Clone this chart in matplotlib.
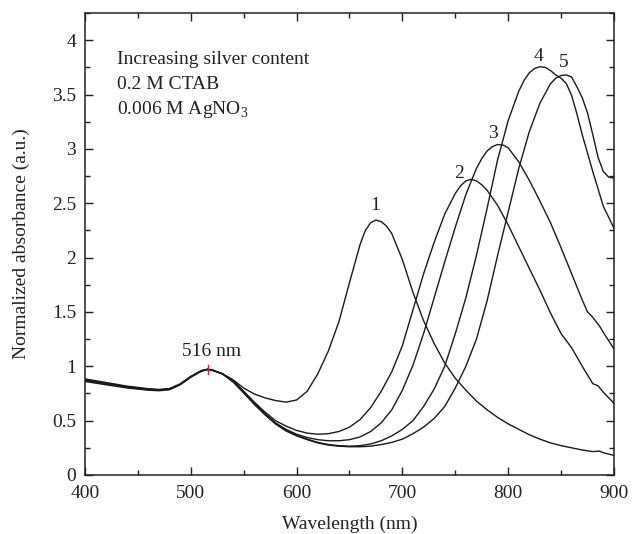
import numpy as np
import matplotlib
matplotlib.use("Agg")
import matplotlib.pyplot as plt
from matplotlib.ticker import MultipleLocator

plt.rcParams['font.family'] = ['Liberation Serif', 'DejaVu Serif']
plt.rcParams['mathtext.fontset'] = 'custom'
plt.rcParams['mathtext.rm'] = 'Liberation Serif'

# shared part of the spectra (400-530 nm)
wl_common = [400, 410, 420, 430, 440, 450, 460, 470, 480, 490, 500, 510, 516, 520, 530]
ab_common = [0.86, 0.845, 0.83, 0.815, 0.80, 0.79, 0.78, 0.775, 0.785, 0.83, 0.90, 0.955, 0.97, 0.965, 0.93]

# spectrum 1
wl1 = [540, 550, 560, 570, 580, 590, 600, 610, 620, 630, 640, 650, 660, 665, 670, 675, 680, 685, 690,
       700, 710, 720, 730, 740, 750, 760, 770, 780, 790, 800, 810, 820, 830, 840, 850,
       860, 870, 880, 886, 890, 900]
ab1 = [0.875, 0.80, 0.745, 0.71, 0.685, 0.67, 0.69, 0.77, 0.93, 1.14, 1.41, 1.77, 2.12, 2.25, 2.32, 2.345, 2.33, 2.29, 2.22,
       1.98, 1.68, 1.42, 1.21, 1.03, 0.89, 0.78, 0.68, 0.60, 0.53, 0.47, 0.42, 0.37, 0.33, 0.295, 0.27,
       0.25, 0.23, 0.215, 0.22, 0.205, 0.18]

# spectrum 2
wl2 = [540, 550, 560, 570, 580, 590, 600, 610, 620, 630, 640, 650, 660, 670, 680, 690, 700, 710,
       720, 730, 740, 750, 755, 760, 765, 770, 775, 780, 790, 800, 810, 820, 830, 840, 850, 860, 870,
       880, 885, 890, 900]
ab2 = [0.87, 0.77, 0.67, 0.58, 0.50, 0.45, 0.41, 0.385, 0.375, 0.38, 0.40, 0.44, 0.51, 0.62, 0.77, 0.95, 1.19, 1.52,
       1.85, 2.14, 2.40, 2.59, 2.66, 2.705, 2.72, 2.705, 2.67, 2.62, 2.48, 2.30, 2.10, 1.90, 1.70, 1.49, 1.30, 1.17, 1.00,
       0.84, 0.82, 0.76, 0.66]

# spectrum 3
wl3 = [540, 550, 560, 570, 580, 590, 600, 610, 620, 630, 640, 650, 660, 670, 680, 690, 700, 710,
       720, 730, 740, 750, 760, 770, 775, 780, 785, 790, 795, 800, 810, 820, 830, 840, 850, 860, 870,
       875, 880, 887, 890, 900]
ab3 = [0.865, 0.765, 0.66, 0.565, 0.48, 0.42, 0.375, 0.345, 0.325, 0.315, 0.315, 0.325, 0.35, 0.40, 0.48, 0.60, 0.78, 1.01,
       1.30, 1.63, 1.96, 2.28, 2.58, 2.82, 2.91, 2.98, 3.02, 3.04, 3.035, 3.01, 2.88, 2.71, 2.52, 2.32, 2.09, 1.85, 1.61,
       1.50, 1.45, 1.36, 1.31, 1.16]

# spectrum 4
wl4 = [540, 550, 560, 570, 580, 590, 600, 610, 620, 630, 640, 650, 660, 670, 680, 690, 700, 710,
       720, 730, 740, 750, 760, 770, 780, 790, 800, 810, 815, 820, 825, 830, 835, 840, 845, 850, 855,
       860, 865, 870, 880, 890, 900]
ab4 = [0.86, 0.76, 0.655, 0.56, 0.475, 0.41, 0.365, 0.33, 0.30, 0.28, 0.27, 0.265, 0.27, 0.285, 0.315, 0.36, 0.42, 0.50,
       0.63, 0.79, 1.00, 1.30, 1.63, 2.02, 2.45, 2.90, 3.26, 3.53, 3.63, 3.70, 3.74, 3.755, 3.75, 3.72, 3.68, 3.65, 3.60,
       3.49, 3.32, 3.13, 2.79, 2.47, 2.27]

# spectrum 5
wl5 = [540, 550, 560, 570, 580, 590, 600, 610, 620, 630, 640, 650, 660, 670, 680, 690, 700, 710,
       720, 730, 740, 750, 760, 770, 780, 790, 800, 810, 820, 830, 840, 845, 850, 855, 860, 865,
       870, 875, 880, 885, 890, 895, 900]
ab5 = [0.855, 0.755, 0.65, 0.555, 0.47, 0.405, 0.36, 0.325, 0.295, 0.275, 0.265, 0.26, 0.26, 0.265, 0.28, 0.30, 0.33, 0.38,
       0.44, 0.52, 0.63, 0.80, 1.00, 1.25, 1.60, 2.02, 2.42, 2.82, 3.16, 3.42, 3.60, 3.65, 3.675, 3.68, 3.66, 3.57,
       3.47, 3.33, 3.13, 2.92, 2.79, 2.74, 2.73]

offsets = [0.0, 0.008, 0.016, 0.024, 0.012]  # the left band is a bundle of slightly shifted lines
curves = [(wl1, ab1), (wl2, ab2), (wl3, ab3), (wl4, ab4), (wl5, ab5)]
labels = ['1', '2', '3', '4', '5']
label_pos = [(674, 2.48), (754, 2.77), (786, 3.14), (828.5, 3.85), (852, 3.79)]

fig = plt.figure(figsize=(6.32, 5.34), dpi=100)
ax = fig.add_axes([0.1345, 0.1105, 0.837, 0.8652])

for (wl, ab), off in zip(curves, offsets):
    n = len(wl_common)
    taper = np.linspace(1, 0, n)
    left = np.array(ab_common) + off * taper
    x = wl_common + wl
    y = list(left) + ab
    ax.plot(x, y, color='#1a1a1a', lw=1.0)

for lab, (lx, ly) in zip(labels, label_pos):
    ax.text(lx, ly, lab, fontsize=14, ha='center', va='center', color='#222222')

# red marker at the 516 nm band
ax.plot([516, 516], [0.93, 1.01], color='#e0204a', lw=1.0)
ax.text(520, 1.14, '516 nm', fontsize=14, ha='center', va='center', color='#222222')

ax.text(430, 3.82, 'Increasing silver content', fontsize=14, va='center', color='#222222')
ax.text(430, 3.59, '0.2 M CTAB', fontsize=14, va='center', color='#222222')
ax.text(430, 3.36, '0.006 M AgNO$_3$', fontsize=14, va='center', color='#222222')

ax.set_xlim(400, 900)
ax.set_ylim(0, 4.25)
ax.xaxis.set_major_locator(MultipleLocator(100))
ax.xaxis.set_minor_locator(MultipleLocator(50))
ax.yaxis.set_major_locator(MultipleLocator(0.5))
ax.yaxis.set_minor_locator(MultipleLocator(0.25))
ax.set_yticks([0, 0.5, 1, 1.5, 2, 2.5, 3, 3.5, 4])
ax.set_yticklabels(['0', '0.5', '1', '1.5', '2', '2.5', '3', '3.5', '4'])
ax.tick_params(which='both', direction='in', top=True, right=True, labelsize=14, colors='#222222')
ax.tick_params(which='major', length=6, width=1.0)
ax.tick_params(which='minor', length=3.5, width=1.0)
ax.tick_params(axis='x', which='major', pad=7.5)
ax.tick_params(axis='y', which='major', pad=6.5)
for s in ax.spines.values():
    s.set_linewidth(1.1)
    s.set_color('#222222')

ax.set_xlabel('Wavelength (nm)', fontsize=14, color='#222222', labelpad=9.5)
ax.set_ylabel('Normalized absorbance (a.u.)', fontsize=14, color='#222222', labelpad=16)

fig.savefig('out.png', dpi=100)
